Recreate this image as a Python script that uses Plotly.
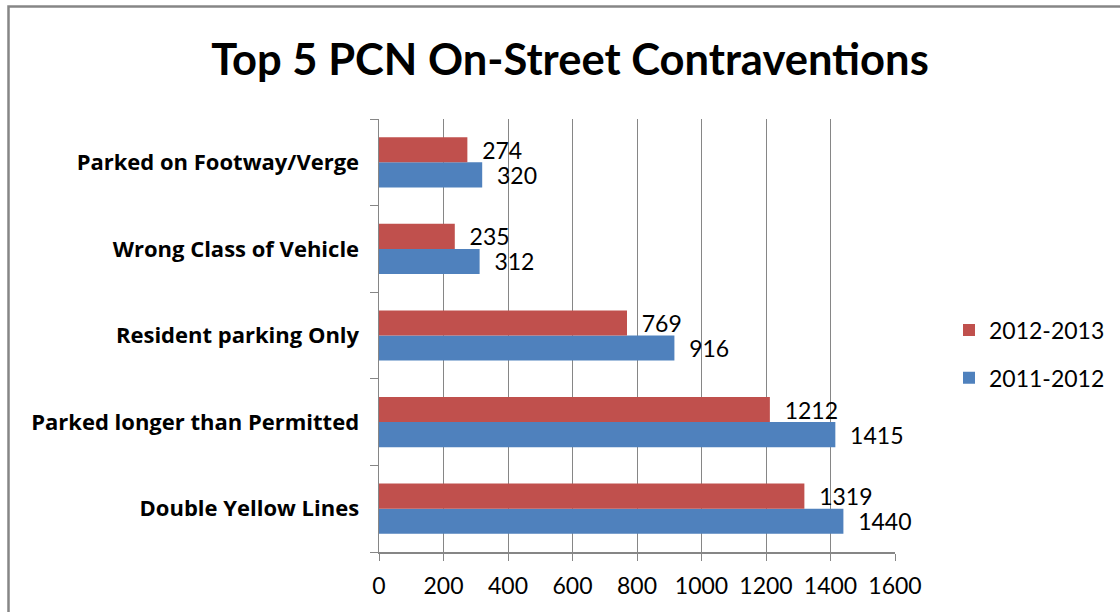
import plotly.graph_objects as go

categories = [
    "Double Yellow Lines",
    "Parked longer than Permitted",
    "Resident parking Only",
    "Wrong Class of Vehicle",
    "Parked on Footway/Verge",
]
series_2011_2012 = [1440, 1415, 916, 312, 320]
series_2012_2013 = [1319, 1212, 769, 235, 274]
x_ticks = [0, 200, 400, 600, 800, 1000, 1200, 1400, 1600]

BLUE = "#4F81BD"
RED = "#C0504D"
FONT = "Lato"
PAD = "\u00a0\u00a0"

W, H = 1120, 612
L, R, T, B = 379, 895, 119, 552
PW, PH = R - L, B - T

fig = go.Figure()
fig.add_trace(go.Bar(
    y=categories, x=series_2011_2012, orientation="h", name="2011-2012",
    marker=dict(color=BLUE, line=dict(width=0)), legendgroup="a", legendrank=2,
    texttemplate=PAD + "%{x}", textposition="outside", cliponaxis=False,
    constraintext="none", textfont=dict(family=FONT, size=23, color="#000"),
))
fig.add_trace(go.Bar(
    y=categories, x=series_2012_2013, orientation="h", name="2012-2013",
    marker=dict(color=RED, line=dict(width=0)), legendgroup="b", legendrank=1,
    texttemplate=PAD + "%{x}", textposition="outside", cliponaxis=False,
    constraintext="none", textfont=dict(family=FONT, size=23, color="#000"),
))

fig.update_layout(
    width=W, height=H,
    margin=dict(l=L, r=W - R, t=T, b=H - B, autoexpand=False),
    paper_bgcolor="white", plot_bgcolor="white",
    barmode="group", bargap=0.42, bargroupgap=0,
    title=dict(text="<b>Top 5 PCN On-Street Contraventions</b>",
               font=dict(family=FONT, size=43.5, color="#000"),
               x=570 / W, xanchor="center", xref="container",
               y=1 - 60 / H, yanchor="middle", yref="container"),
    legend=dict(x=(949 - L) / PW, xanchor="left",
                y=(B - 354) / PH, yanchor="middle",
                traceorder="grouped", tracegroupgap=15,
                font=dict(family=FONT, size=23, color="#000"),
                bgcolor="rgba(0,0,0,0)"),
    xaxis=dict(range=[0, 1600], tickvals=x_ticks, showgrid=True,
               gridcolor="#868686", gridwidth=1, showline=True,
               linecolor="#868686", linewidth=1.5, ticks="outside",
               ticklen=7, tickcolor="#868686", zeroline=False,
               tickfont=dict(family=FONT, size=23, color="#000"),
               ticklabelstandoff=6, fixedrange=True),
    yaxis=dict(showline=True, linecolor="#868686", linewidth=1.5,
               ticks="outside", tickson="boundaries", ticklen=8,
               tickcolor="#868686", showgrid=False,
               tickfont=dict(family="Open Sans", size=22, color="#000", weight="bold"),
               ticklabelstandoff=14, fixedrange=True),
    shapes=[dict(type="rect", xref="paper", yref="paper",
                 x0=(8.5 - L) / PW, x1=1.6, y0=-0.3, y1=(B - 6.5) / PH,
                 line=dict(color="#868686", width=2.5), layer="below")],
)

fig.write_html(
    "out.html",
    config={"displayModeBar": False, "staticPlot": True},
    post_script="document.body.style.margin='0px';document.body.style.overflow='hidden';",
)
